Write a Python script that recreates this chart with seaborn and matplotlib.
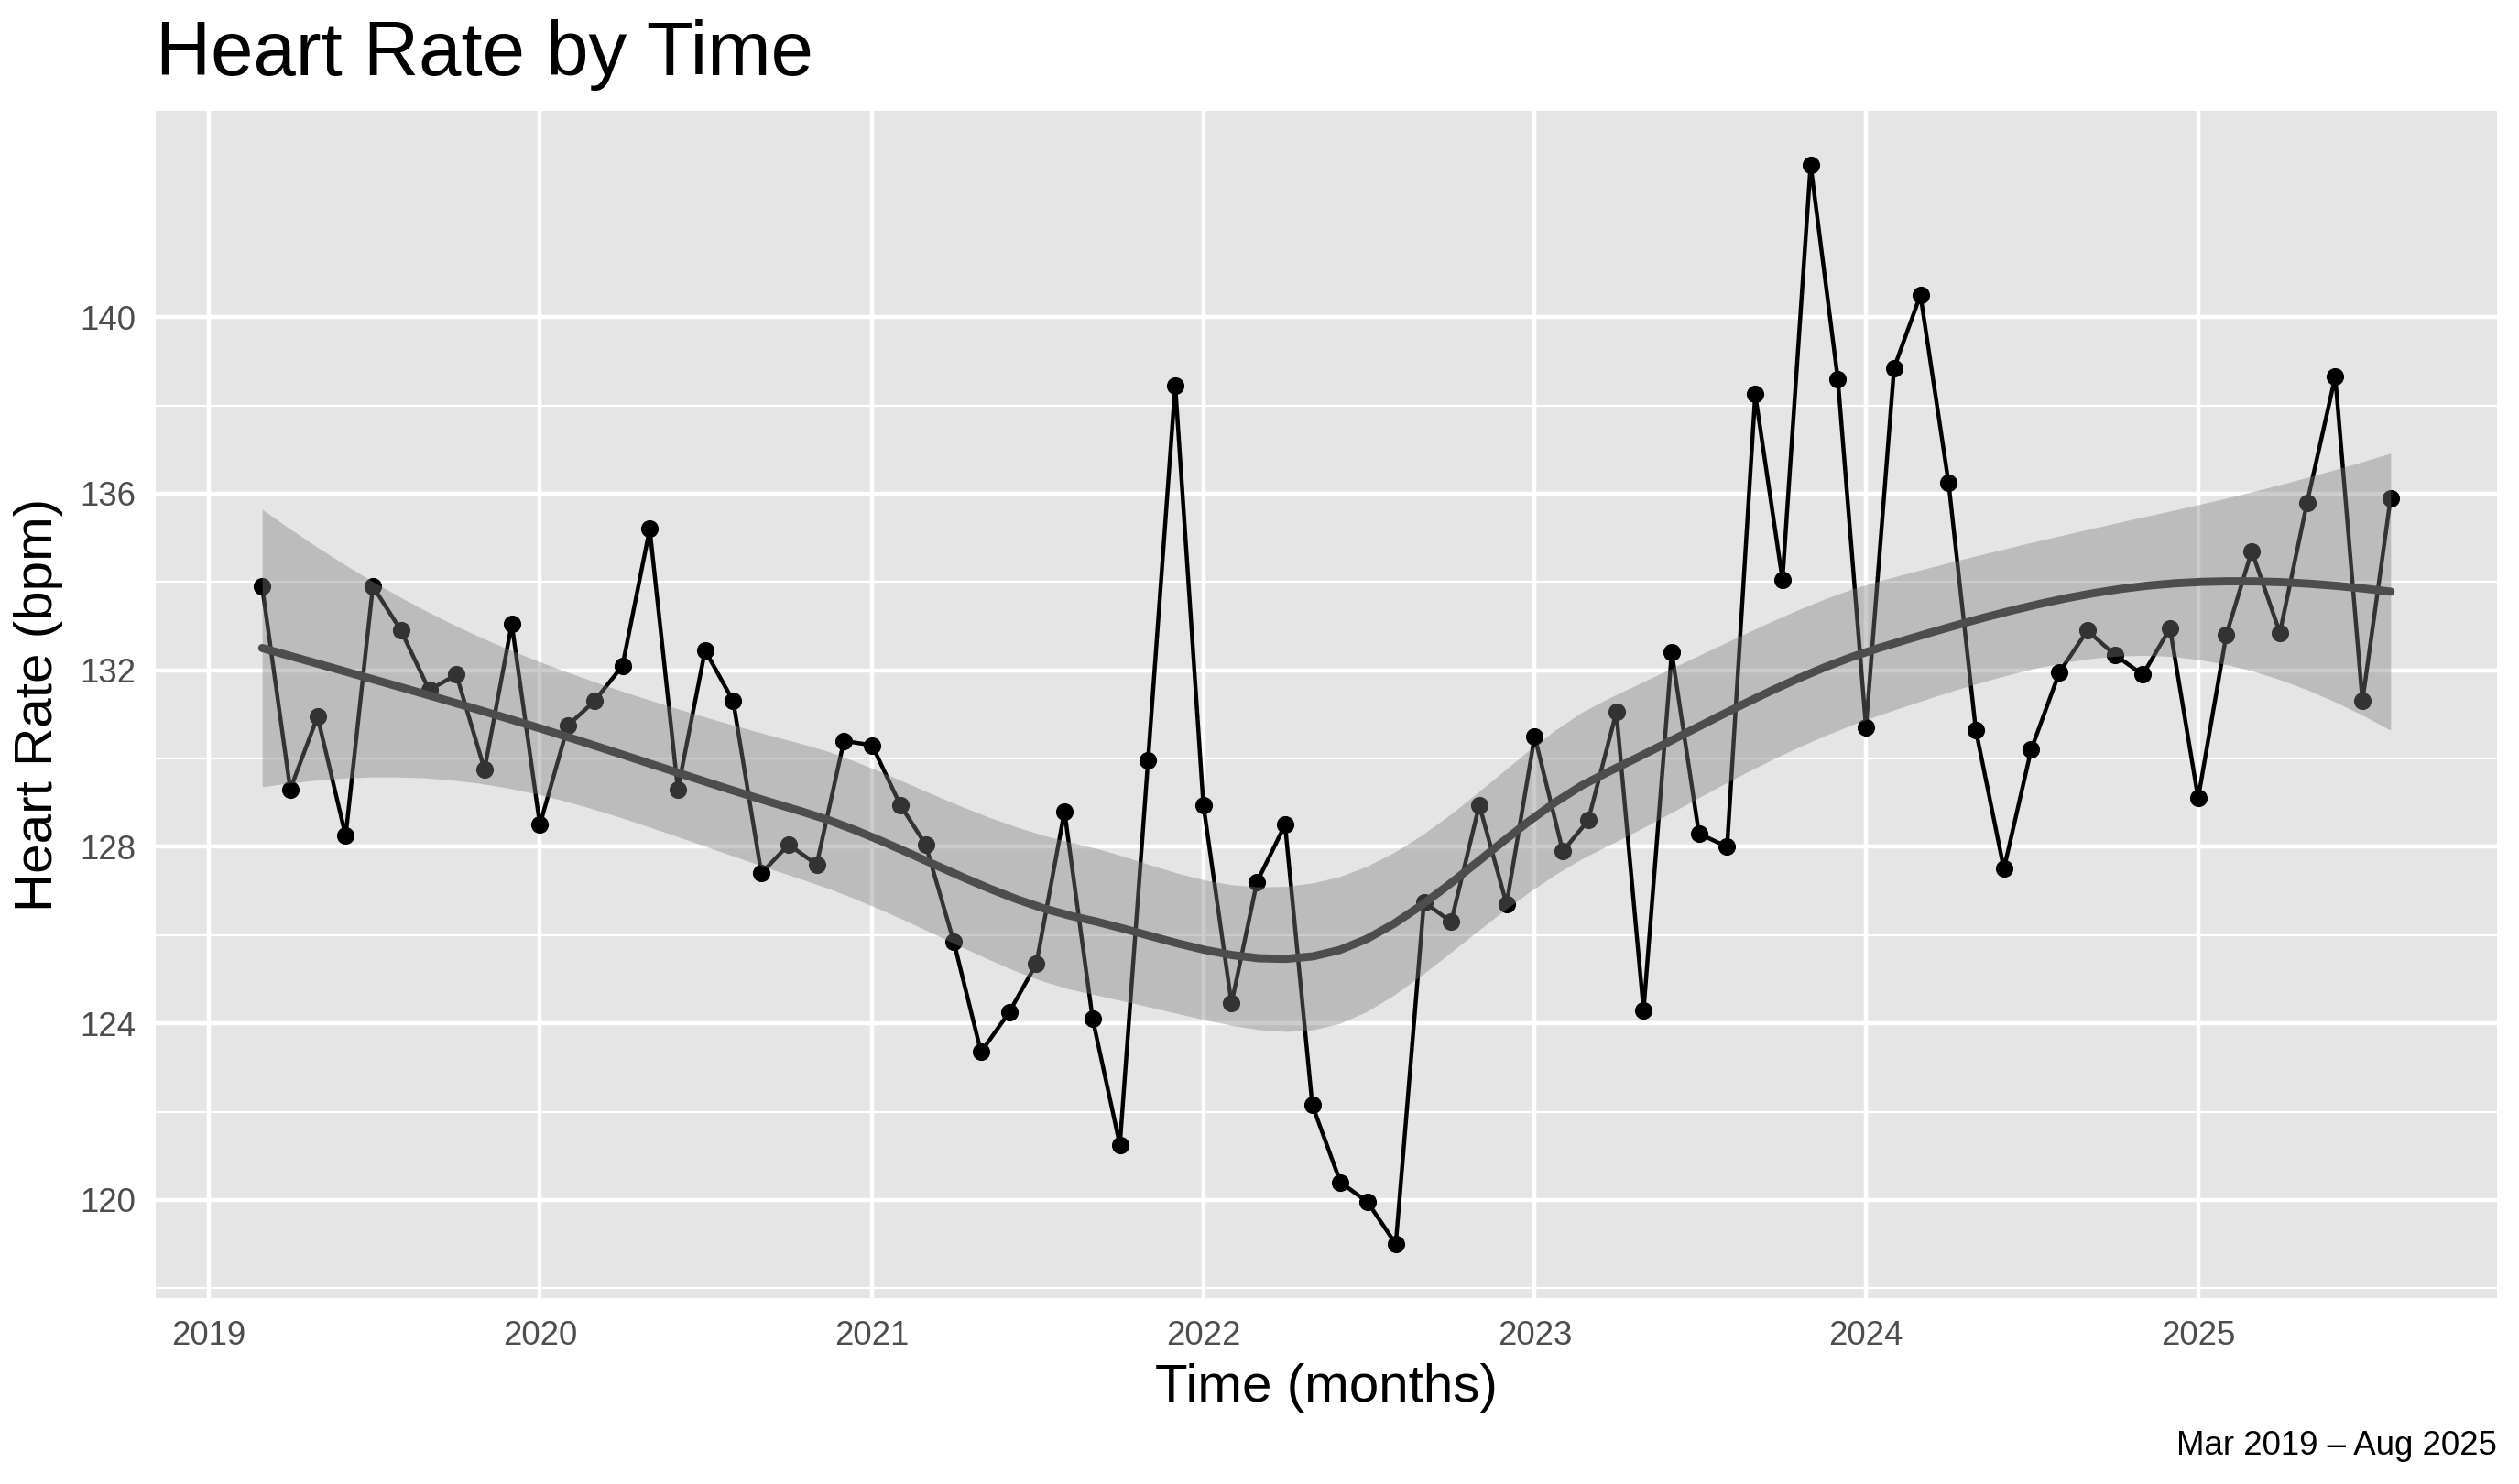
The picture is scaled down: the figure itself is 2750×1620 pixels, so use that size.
import numpy as np
import pandas as pd
import matplotlib
matplotlib.use("Agg")
import matplotlib.pyplot as plt
import matplotlib.dates as mdates
import seaborn as sns

# monthly heart rate, Mar 2019 .. Aug 2025
months = pd.date_range("2019-03-01", "2025-08-01", freq="MS")
hr_2019 = [133.9, 129.3, 130.95, 128.25, 133.9, 132.9, 131.55, 131.9, 129.75, 133.05]
hr_2020 = [128.5, 130.75, 131.3, 132.1, 135.2, 129.3, 132.45, 131.3, 127.4, 128.05, 127.6, 130.4]
hr_2021 = [130.3, 128.95, 128.05, 125.85, 123.35, 124.25, 125.35, 128.8, 124.1, 121.25, 129.95, 138.45]
hr_2022 = [128.95, 124.45, 127.2, 128.5, 122.15, 120.4, 119.95, 119.0, 126.75, 126.3, 128.95, 126.7]
hr_2023 = [130.5, 127.9, 128.6, 131.05, 124.3, 132.4, 128.3, 128.0, 138.25, 134.05, 143.45, 138.6]
hr_2024 = [130.7, 138.85, 140.5, 136.25, 130.65, 127.5, 130.2, 131.95, 132.9, 132.35, 131.9, 132.95]
hr_2025 = [129.1, 132.8, 134.7, 132.85, 135.8, 138.65, 131.3, 135.9]
heart_rate = hr_2019 + hr_2020 + hr_2021 + hr_2022 + hr_2023 + hr_2024 + hr_2025

y_breaks = [120, 124, 128, 132, 136, 140]
y_minor = [118, 122, 126, 130, 134, 138]

df = pd.DataFrame({"month": months, "hr": heart_rate})


def local_rows(x, points, q):
    # value and slope operators of a local quadratic fit (tricube weights)
    n = len(x)
    val, der = [], []
    for x0 in points:
        d = np.abs(x - x0)
        h = np.sort(d)[q - 1]
        w = np.clip(1 - (d / h) ** 3, 0, None) ** 3
        X = np.column_stack([np.ones(n), x - x0, (x - x0) ** 2])
        XtW = X.T * w
        B = np.linalg.solve(XtW @ X, XtW)
        val.append(B[0])
        der.append(B[1])
    return np.array(val), np.array(der)


def kd_vertices(xs, fc):
    # 1-d kd tree split points, roughly what R's loess does
    cuts = []

    def split(lo, hi):
        if hi - lo + 1 <= fc:
            return
        m = (lo + hi) // 2
        cuts.append((xs[m - 1] + xs[m]) / 2)
        split(lo, m)
        split(m + 1, hi)

    split(1, len(xs))
    t = 0.005 * (xs[-1] - xs[0])
    return np.sort(np.r_[xs[0] - t, cuts, xs[-1] + t])


def interp_rows(x, pts, verts, vval, vder):
    rows = []
    for p in pts:
        i = min(np.searchsorted(verts, p, side="right") - 1, len(verts) - 2)
        a, b = verts[i], verts[i + 1]
        hgt = b - a
        u = (p - a) / hgt
        h00 = 2 * u ** 3 - 3 * u ** 2 + 1
        h10 = u ** 3 - 2 * u ** 2 + u
        h01 = -2 * u ** 3 + 3 * u ** 2
        h11 = u ** 3 - u ** 2
        rows.append(h00 * vval[i] + h10 * hgt * vder[i] + h01 * vval[i + 1] + h11 * hgt * vder[i + 1])
    return np.array(rows)


def loess_fit(x, y, xnew, span=0.75):
    n = len(x)
    q = int(np.floor(n * span))
    fc = int(np.floor(n * span * 0.2))
    verts = kd_vertices(np.sort(x), fc)
    vval, vder = local_rows(x, verts, q)
    L = interp_rows(x, x, verts, vval, vder)
    R = np.eye(n) - L
    RtR = R.T @ R
    d1 = np.trace(RtR)
    d2 = np.trace(RtR @ RtR)
    s = np.sqrt(np.sum((R @ y) ** 2) / d1)
    Lnew = interp_rows(x, xnew, verts, vval, vder)
    fit = Lnew @ y
    se = s * np.sqrt(np.sum(Lnew ** 2, axis=1))
    dof = d1 ** 2 / d2
    z = 1.959964
    t = z + (z ** 3 + z) / (4 * dof) + (5 * z ** 5 + 16 * z ** 3 + 3 * z) / (96 * dof ** 2)
    return fit, fit - t * se, fit + t * se


xnum = mdates.date2num(df["month"]) / 365.25
ynum = df["hr"].to_numpy()
grid = np.linspace(xnum.min(), xnum.max(), 80)
fit, lo, hi = loess_fit(xnum, ynum, grid)
smooth = pd.DataFrame({"month": mdates.num2date(grid * 365.25), "fit": fit, "lo": lo, "hi": hi})

sns.set_theme(style="white")
plt.rcParams["font.family"] = ["Liberation Sans", "DejaVu Sans"]

fig = plt.figure(figsize=(2750 / 300, 1620 / 300), dpi=300)
fig.subplots_adjust(left=170 / 2750, right=2726 / 2750, bottom=1 - 1417 / 1620, top=1 - 121 / 1620)
ax = fig.add_subplot(111)
ax.set_facecolor("#E5E5E5")
for sp in ax.spines.values():
    sp.set_visible(False)

sns.lineplot(data=df, x="month", y="hr", color="black", linewidth=1.07, ax=ax, zorder=3)
sns.scatterplot(data=df, x="month", y="hr", color="black", s=4.6 ** 2, linewidth=0, ax=ax, zorder=4)
ax.fill_between(smooth["month"], smooth["lo"], smooth["hi"], color="#808080", alpha=0.4, linewidth=0, zorder=5)
sns.lineplot(data=smooth, x="month", y="fit", color="#4D4D4D", linewidth=2.13, ax=ax, zorder=6)

# ggplot-like expansion
x0, x1 = mdates.date2num(months[0]), mdates.date2num(months[-1])
pad = 0.05 * (x1 - x0)
ax.set_xlim(x0 - pad, x1 + pad)
ypad = 0.05 * (max(heart_rate) - min(heart_rate))
ax.set_ylim(min(heart_rate) - ypad, max(heart_rate) + ypad)

ax.xaxis.set_major_locator(mdates.YearLocator())
ax.xaxis.set_major_formatter(mdates.DateFormatter("%Y"))
ax.set_yticks(y_breaks)
ax.set_yticks(y_minor, minor=True)
ax.grid(True, which="major", color="white", linewidth=1.07, zorder=0)
ax.grid(True, which="minor", axis="y", color="white", linewidth=0.53, zorder=0)
ax.set_axisbelow(True)
ax.tick_params(axis="both", which="major", length=2.75, width=1.07, color="#333333",
               labelsize=8.8, labelcolor="#4D4D4D")
ax.tick_params(axis="x", pad=3)
ax.tick_params(axis="y", pad=2.5)
ax.tick_params(which="minor", length=0)
ax.set_xlabel("")
ax.set_ylabel("")

fig.text(170 / 2750, 1 - 82 / 1620, "Heart Rate by Time", fontsize=20, color="black", ha="left", va="baseline")
fig.text(((170 + 2726) / 2) / 2750, 1 - 1530 / 1620, "Time (months)", fontsize=14, color="black",
         ha="center", va="baseline")
fig.text(42 / 2750, 1 - ((121 + 1417) / 2) / 1620, "Heart Rate (bpm)", fontsize=14, color="black",
         rotation=90, ha="center", va="center")
fig.text(2726 / 2750, 1 - 1588 / 1620, "Mar 2019 \u2013 Aug 2025", fontsize=8.8, color="black",
         ha="right", va="baseline")

fig.savefig("out.png", dpi=300, facecolor="white")
